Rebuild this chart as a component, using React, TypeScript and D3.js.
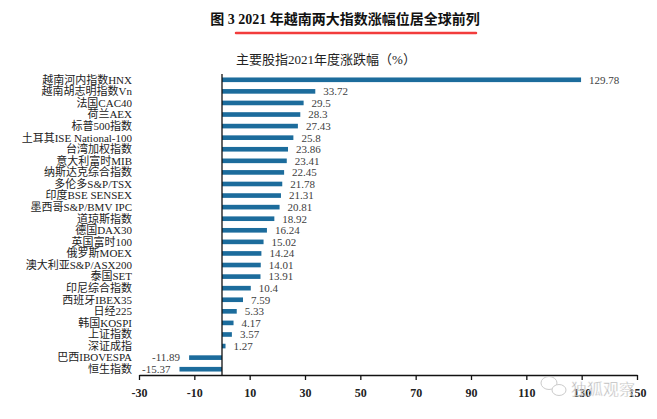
import React, { useEffect, useRef } from "react";
import * as d3 from "d3";

const indices = [
  "越南河内指数HNX",
  "越南胡志明指数Vn",
  "法国CAC40",
  "荷兰AEX",
  "标普500指数",
  "土耳其ISE National-100",
  "台湾加权指数",
  "意大利富时MIB",
  "纳斯达克综合指数",
  "多伦多S&P/TSX",
  "印度BSE SENSEX",
  "墨西哥S&P/BMV IPC",
  "道琼斯指数",
  "德国DAX30",
  "英国富时100",
  "俄罗斯MOEX",
  "澳大利亚S&P/ASX200",
  "泰国SET",
  "印尼综合指数",
  "西班牙IBEX35",
  "日经225",
  "韩国KOSPI",
  "上证指数",
  "深证成指",
  "巴西IBOVESPA",
  "恒生指数",
];

const changes = [
  129.78, 33.72, 29.5, 28.3, 27.43, 25.8, 23.86, 23.41, 22.45, 21.78, 21.31,
  20.81, 18.92, 16.24, 15.02, 14.24, 14.01, 13.91, 10.4, 7.59, 5.33, 4.17,
  3.57, 1.27, -11.89, -15.37,
];

const tickValues = [-30, -10, 10, 30, 50, 70, 90, 110, 130, 150];

const W = 657;
const H = 419;
const FONT = "'Liberation Serif', 'Noto Sans CJK SC', serif";

export default function App() {
  const ref = useRef<SVGSVGElement | null>(null);

  useEffect(() => {
    const svg = d3.select(ref.current);
    svg.selectAll("*").remove();

    svg
      .append("rect")
      .attr("width", W)
      .attr("height", H)
      .attr("fill", "#fff");

    // title
    svg
      .append("text")
      .attr("x", 345)
      .attr("y", 24)
      .attr("text-anchor", "middle")
      .attr("font-family", FONT)
      .attr("font-weight", "bold")
      .attr("font-size", 14)
      .attr("fill", "#111")
      .text("图 3  2021 年越南两大指数涨幅位居全球前列");

    svg
      .append("line")
      .attr("x1", 236)
      .attr("x2", 476)
      .attr("y1", 33)
      .attr("y2", 33)
      .attr("stroke", "#f23c3c")
      .attr("stroke-width", 2.5)
      .attr("stroke-linecap", "round");

    svg
      .append("text")
      .attr("x", 326)
      .attr("y", 64)
      .attr("text-anchor", "middle")
      .attr("font-family", FONT)
      .attr("font-size", 13)
      .attr("fill", "#222")
      .text("主要股指2021年度涨跌幅（%）");

    const x = d3.scaleLinear().domain([-30, 150]).range([139, 637]);
    const y = d3
      .scaleBand<string>()
      .domain(indices)
      .range([74, 375])
      .paddingInner(0.6)
      .paddingOuter(0.3);

    const rows = indices.map((name, i) => ({ name, value: changes[i] }));

    svg
      .append("g")
      .selectAll("rect")
      .data(rows)
      .enter()
      .append("rect")
      .attr("x", (d) => x(Math.min(0, d.value)))
      .attr("width", (d) => Math.abs(x(d.value) - x(0)))
      .attr("y", (d) => y(d.name)!)
      .attr("height", y.bandwidth())
      .attr("fill", "#1c6c9c");

    // value labels
    svg
      .append("g")
      .selectAll("text")
      .data(rows)
      .enter()
      .append("text")
      .attr("x", (d) => (d.value >= 0 ? x(d.value) + 8 : x(d.value) - 9))
      .attr("y", (d) => y(d.name)! + y.bandwidth() / 2)
      .attr("dy", "0.35em")
      .attr("text-anchor", (d) => (d.value >= 0 ? "start" : "end"))
      .attr("font-family", FONT)
      .attr("font-size", 11)
      .attr("fill", "#404040")
      .text((d) => String(d.value));

    // category labels
    svg
      .append("g")
      .selectAll("text")
      .data(rows)
      .enter()
      .append("text")
      .attr("x", 132)
      .attr("y", (d) => y(d.name)! + y.bandwidth() / 2)
      .attr("dy", "0.35em")
      .attr("text-anchor", "end")
      .attr("font-family", FONT)
      .attr("font-size", 11)
      .attr("fill", "#222")
      .text((d) => d.name);

    // zero line
    svg
      .append("line")
      .attr("x1", x(0))
      .attr("x2", x(0))
      .attr("y1", 74)
      .attr("y2", 375)
      .attr("stroke", "#111")
      .attr("stroke-width", 1.3);

    // x axis
    const axis = svg
      .append("g")
      .attr("transform", "translate(0,375)")
      .call(
        d3
          .axisBottom(x)
          .tickValues(tickValues)
          .tickSize(5)
          .tickSizeOuter(0)
          .tickFormat((d) => String(d))
      );
    axis.select(".domain").attr("stroke", "#111").attr("stroke-width", 1.3);
    axis.selectAll(".tick line").attr("stroke", "#111").attr("stroke-width", 1.3);
    axis
      .selectAll(".tick text")
      .attr("font-family", FONT)
      .attr("font-size", 12)
      .attr("font-weight", "bold")
      .attr("fill", "#222")
      .attr("dy", "1.2em");

    // watermark
    const wm = svg.append("g").attr("opacity", 0.75);
    wm.append("ellipse")
      .attr("cx", 549)
      .attr("cy", 383)
      .attr("rx", 8)
      .attr("ry", 6.5)
      .attr("fill", "#fff")
      .attr("stroke", "#bbb")
      .attr("stroke-width", 1);
    wm.append("ellipse")
      .attr("cx", 559)
      .attr("cy", 390)
      .attr("rx", 7)
      .attr("ry", 5.5)
      .attr("fill", "#fff")
      .attr("stroke", "#bbb")
      .attr("stroke-width", 1);
    wm.append("text")
      .attr("x", 571)
      .attr("y", 395)
      .attr("font-family", "'Noto Sans CJK SC', sans-serif")
      .attr("font-size", 16)
      .attr("fill", "#9a9a9a")
      .attr("stroke", "#fff")
      .attr("stroke-width", 0.4)
      .text("独狐观察");
  }, []);

  return (
    <svg
      ref={ref}
      width={W}
      height={H}
      style={{ position: "absolute", left: 0, top: 0 }}
    />
  );
}
